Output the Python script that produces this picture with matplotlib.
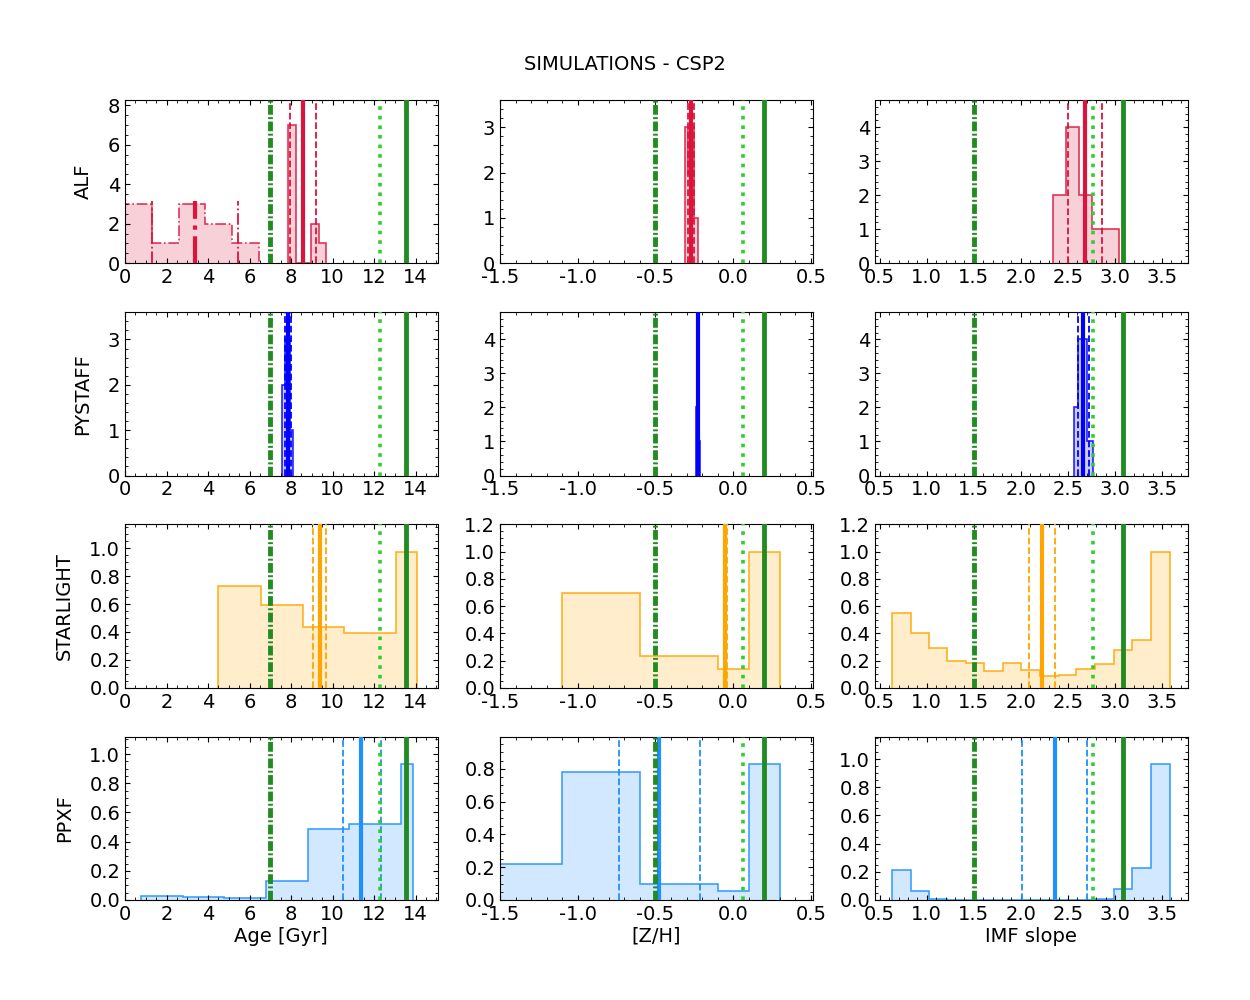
import matplotlib
matplotlib.use('Agg')
import matplotlib.pyplot as plt
from matplotlib.ticker import MultipleLocator, AutoMinorLocator

# codes / parameters
codes = ['ALF', 'PYSTAFF', 'STARLIGHT', 'PPXF']
code_colors = ['crimson', 'blue', 'orange', 'dodgerblue']
params = ['Age [Gyr]', '[Z/H]', 'IMF slope']

# input values (green lines): dash-dot, dotted, solid
true_age = [7.0, 12.28, 13.55]
true_z = [-0.5, 0.06, 0.2]
true_imf = [1.5, 2.77, 3.09]

# ---- ALF ----
alf_age_young_edges = [0.0, 1.29, 2.58, 3.86, 5.15, 6.44]
alf_age_young_counts = [3, 1, 3, 2, 1]
alf_age_young_lines = [3.38, 1.29, 5.43]
alf_age_edges = [7.85, 8.22, 8.59, 8.96, 9.33, 9.70]
alf_age_counts = [7, 0, 0, 2, 1]
alf_age_lines = [8.58, 7.94, 9.18]
alf_z_edges = [-0.313, -0.292, -0.271, -0.250, -0.229]
alf_z_counts = [3, 2, 3, 1]
alf_z_lines = [-0.272, -0.292, -0.252]
alf_imf_edges = [2.34, 2.48, 2.62, 2.76, 2.90, 3.04]
alf_imf_counts = [2, 4, 2, 1, 1]
alf_imf_lines = [2.68, 2.505, 2.86]

# ---- PYSTAFF ----
pys_age_edges = [7.56, 7.69, 7.83, 7.97, 8.11]
pys_age_counts = [2, 3, 3, 1]
pys_age_lines = [7.84, 7.69, 7.99]
pys_z_edges = [-0.240, -0.233, -0.226, -0.219, -0.212]
pys_z_counts = [2, 4, 3, 1]
pys_z_lines = [-0.226, -0.232, -0.220]
pys_imf_edges = [2.566, 2.61, 2.655, 2.70, 2.765]
pys_imf_counts = [2, 4, 4, 1]
pys_imf_lines = [2.66, 2.61, 2.72]

# ---- STARLIGHT ----
sl_age_edges = [4.5, 6.55, 8.55, 10.55, 13.07, 14.07]
sl_age_weights = [0.73, 0.595, 0.435, 0.395, 0.975]
sl_age_lines = [9.38, 9.06, 9.69]
sl_z_edges = [-1.1, -0.6, -0.1, 0.1, 0.3]
sl_z_weights = [0.70, 0.235, 0.135, 1.0]
sl_z_lines = [-0.05, -0.058, -0.042]
imf_edges = [0.63, 0.83, 1.02, 1.22, 1.42, 1.61, 1.81, 2.00,
             2.20, 2.40, 2.59, 2.79, 2.99, 3.18, 3.38, 3.58]
sl_imf_weights = [0.55, 0.40, 0.29, 0.195, 0.18, 0.125, 0.18, 0.13,
                  0.088, 0.096, 0.135, 0.178, 0.28, 0.35, 1.0]
sl_imf_lines = [2.22, 2.09, 2.36]

# ---- PPXF ----
pp_age_edges = [0.75, 2.78, 4.78, 6.79, 8.8, 10.8, 13.3, 13.85]
pp_age_weights = [0.025, 0.018, 0.011, 0.127, 0.489, 0.523, 0.932]
pp_age_lines = [11.38, 10.48, 12.31]
pp_z_edges = [-1.6, -1.1, -0.6, -0.1, 0.1, 0.3]
pp_z_weights = [0.222, 0.78, 0.095, 0.055, 0.83]
pp_z_lines = [-0.476, -0.734, -0.215]
pp_imf_weights = [0.215, 0.065, 0.01, 0, 0, 0, 0, 0,
                  0, 0, 0, 0.01, 0.075, 0.23, 0.965]
pp_imf_lines = [2.36, 2.01, 2.70]

hists = [
    [(alf_age_edges, alf_age_counts, alf_age_lines),
     (alf_z_edges, alf_z_counts, alf_z_lines),
     (alf_imf_edges, alf_imf_counts, alf_imf_lines)],
    [(pys_age_edges, pys_age_counts, pys_age_lines),
     (pys_z_edges, pys_z_counts, pys_z_lines),
     (pys_imf_edges, pys_imf_counts, pys_imf_lines)],
    [(sl_age_edges, sl_age_weights, sl_age_lines),
     (sl_z_edges, sl_z_weights, sl_z_lines),
     (imf_edges, sl_imf_weights, sl_imf_lines)],
    [(pp_age_edges, pp_age_weights, pp_age_lines),
     (pp_z_edges, pp_z_weights, pp_z_lines),
     (imf_edges, pp_imf_weights, pp_imf_lines)],
]
true_vals = [true_age, true_z, true_imf]
xlims = [(0, 15.05), (-1.5, 0.51), (0.45, 3.77)]
xsteps = [2, 0.5, 0.5]
ysteps = [[2, 1, 1], [1, 1, 1], [0.2, 0.2, 0.2], [0.2, 0.2, 0.2]]

plt.rcParams['font.size'] = 14
plt.rcParams['axes.unicode_minus'] = False
fig, axes = plt.subplots(4, 3, figsize=(12.5, 10), dpi=100)
fig.subplots_adjust(left=0.1, right=0.95, top=0.9, bottom=0.1, wspace=0.2, hspace=0.3)


def draw_lines(ax, lines, color, ymax=None, ls_mean='-', ls_err='--'):
    if ymax is None:
        ax.axvline(lines[0], color=color, lw=3, ls=ls_mean, zorder=4)
        for v in lines[1:]:
            ax.axvline(v, color=color, lw=1.3, ls=ls_err, zorder=4)
    else:
        ax.vlines(lines[0], 0, ymax, color=color, lw=3, linestyles=ls_mean, zorder=4)
        ax.vlines(lines[1:], 0, ymax, color=color, lw=1.3, linestyles=ls_err, zorder=4)


for i, code in enumerate(codes):
    c = code_colors[i]
    for j in range(3):
        ax = axes[i, j]
        edges, vals, lines = hists[i][j]
        ax.stairs(vals, edges, fill=True, color=c, alpha=0.2, lw=0)
        ax.stairs(vals, edges, color=c, lw=1.2, alpha=0.85, baseline=0)
        draw_lines(ax, lines, c)
        top = max(vals)
        if i == 0 and j == 0:
            ax.stairs(alf_age_young_counts, alf_age_young_edges, fill=True, color=c, alpha=0.2, lw=0)
            ax.stairs(alf_age_young_counts, alf_age_young_edges, color=c, lw=1.2,
                      alpha=0.85, ls='-.', baseline=0)
            draw_lines(ax, alf_age_young_lines, c, ymax=max(alf_age_young_counts) * 1.05,
                       ls_mean='-.', ls_err='-.')
            ax.set_ylim(0, top * 1.18)
        else:
            ax.set_ylim(0, top * 1.2)

        tv = true_vals[j]
        ax.axvline(tv[0], color='forestgreen', lw=3.5, dashes=(2, 0.5, 0.4, 0.5), zorder=5)
        ax.axvline(tv[1], color='limegreen', lw=2.6, ls=':', zorder=5)
        ax.axvline(tv[2], color='forestgreen', lw=3.5, zorder=5)

        ax.set_xlim(*xlims[j])
        ax.xaxis.set_major_locator(MultipleLocator(xsteps[j]))
        ax.yaxis.set_major_locator(MultipleLocator(ysteps[i][j]))
        ax.xaxis.set_minor_locator(AutoMinorLocator())
        ax.yaxis.set_minor_locator(AutoMinorLocator())
        ax.tick_params(which='both', direction='in', top=True, right=True)
        if j == 0:
            ax.set_ylabel(code, labelpad=11)
        if i == 3:
            ax.set_xlabel(params[j], labelpad=2)

fig.suptitle('SIMULATIONS - CSP2', y=0.945, fontsize=14)
fig.savefig('out.png', dpi=100)
